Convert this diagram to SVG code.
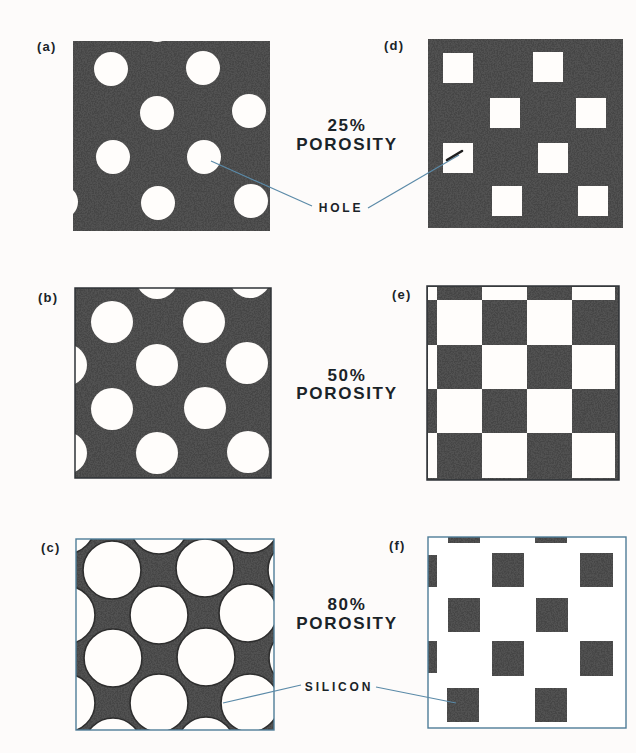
<svg xmlns="http://www.w3.org/2000/svg" width="636" height="753" viewBox="0 0 636 753">
<style>
.bg{fill:#fdfbfa}
.dark{fill:#525252}
.hole{fill:#fffdfb}
.holeC{fill:#fffdfb;stroke:#2e2e2e;stroke-width:1.6}
.frame{fill:none;stroke:#2f3337;stroke-width:1.5}
.frameB{fill:none;stroke:#4f7d98;stroke-width:1.4}
.noise{filter:url(#grain)}
.lbl{font-family:"Liberation Sans",Arial,sans-serif;font-weight:bold;font-size:13px;letter-spacing:1.2px;fill:#1a2328}
.big{font-family:"Liberation Sans",Arial,sans-serif;font-weight:bold;font-size:17px;letter-spacing:1.7px;fill:#1a2328;text-anchor:middle}
.small{font-family:"Liberation Sans",Arial,sans-serif;font-weight:bold;font-size:12px;letter-spacing:2.8px;fill:#1a2328;text-anchor:middle}
.conn{stroke:#5b8aa8;stroke-width:1.2;fill:none}
</style>
<defs>
<filter id="grain" x="0" y="0" width="100%" height="100%">
<feTurbulence type="fractalNoise" baseFrequency="0.7" numOctaves="2" seed="4" result="n"/>
<feColorMatrix in="n" type="matrix" values="0 0 0 0 0.06  0 0 0 0 0.06  0 0 0 0 0.06  4 0 0 0 -1.55" result="a"/>
<feComposite in="a" in2="SourceGraphic" operator="in"/>
</filter>
<clipPath id="cpA"><rect x="73" y="41" width="197" height="190"/></clipPath>
<clipPath id="cpB"><rect x="75" y="288" width="196" height="190"/></clipPath>
<clipPath id="cpC"><rect x="76" y="539" width="198" height="191"/></clipPath>
<clipPath id="cpF"><rect x="428" y="537" width="198" height="191"/></clipPath>
</defs>
<rect class="bg" x="0" y="0" width="636" height="753"/>

<g id="panel-a">
<rect class="dark" x="73" y="41" width="197" height="190"/>
<rect class="noise" x="73" y="41" width="197" height="190"/>
<g clip-path="url(#cpA)" class="hole">
<circle cx="111" cy="69" r="17"/><circle cx="203" cy="68" r="17"/>
<circle cx="157" cy="113" r="17"/><circle cx="249" cy="111" r="17"/>
<circle cx="113" cy="157" r="17"/><circle cx="204" cy="157" r="17"/>
<circle cx="158" cy="203" r="17"/><circle cx="251" cy="201" r="17"/>
<circle cx="61" cy="202" r="17"/><circle cx="157" cy="25" r="17"/>
</g>
<text class="lbl" x="37" y="51">(a)</text>
</g>

<g id="panel-b">
<rect class="dark" x="75" y="288" width="196" height="190"/>
<rect class="noise" x="75" y="288" width="196" height="190"/>
<g clip-path="url(#cpB)" class="hole">
<circle cx="112" cy="322" r="21"/><circle cx="204" cy="322" r="21"/>
<circle cx="157" cy="365" r="21"/><circle cx="247" cy="363" r="21"/>
<circle cx="112" cy="409" r="21"/><circle cx="205" cy="408" r="21"/>
<circle cx="157" cy="453" r="21"/><circle cx="248" cy="452" r="21"/>
<circle cx="157" cy="278" r="21"/><circle cx="250" cy="277" r="21"/>
<circle cx="66" cy="365" r="21"/><circle cx="66" cy="453" r="21"/>
</g>
<rect class="frame" x="75" y="288" width="196" height="190"/>
<text class="lbl" x="38" y="302">(b)</text>
</g>

<g id="panel-c">
<rect class="dark" x="76" y="539" width="198" height="191"/>
<rect class="noise" x="76" y="539" width="198" height="191"/>
<g clip-path="url(#cpC)" class="holeC">
<circle cx="112" cy="570" r="29"/><circle cx="205" cy="568" r="29"/>
<circle cx="159" cy="615" r="29"/><circle cx="248" cy="613" r="29"/>
<circle cx="113" cy="658" r="29"/><circle cx="206" cy="657" r="29"/>
<circle cx="159" cy="703" r="29"/><circle cx="250" cy="703" r="29"/>
<circle cx="159" cy="525" r="29"/><circle cx="250" cy="524" r="29"/>
<circle cx="66" cy="525" r="29"/>
<circle cx="66" cy="615" r="29"/><circle cx="66" cy="703" r="29"/>
<circle cx="297" cy="570" r="29"/><circle cx="298" cy="658" r="29"/>
<circle cx="113" cy="747" r="29"/><circle cx="206" cy="746" r="29"/>
</g>
<rect class="frameB" x="76" y="539" width="198" height="191"/>
<text class="lbl" x="41" y="552">(c)</text>
</g>

<g id="panel-d">
<rect class="dark" x="428" y="39" width="195" height="189"/>
<rect class="noise" x="428" y="39" width="195" height="189"/>
<g class="hole">
<rect x="443" y="53" width="30" height="30"/><rect x="533" y="52" width="30" height="30"/>
<rect x="490" y="98" width="30" height="30"/><rect x="576" y="98" width="30" height="30"/>
<rect x="443" y="143" width="30" height="30"/><rect x="538" y="143" width="30" height="30"/>
<rect x="492" y="186" width="30" height="30"/><rect x="578" y="186" width="30" height="30"/>
</g>
<text class="lbl" x="384" y="50">(d)</text>
</g>

<g id="panel-e">
<rect class="dark" x="427" y="286" width="192" height="194"/>
<rect class="noise" x="427" y="286" width="192" height="194"/>
<g class="hole">
<rect x="428" y="287" width="9" height="13"/><rect x="482" y="287" width="45" height="13"/><rect x="572" y="287" width="43" height="13"/>
<rect x="437" y="300" width="45" height="45"/><rect x="527" y="300" width="45" height="45"/>
<rect x="428" y="345" width="9" height="44"/><rect x="482" y="345" width="45" height="44"/><rect x="572" y="345" width="43" height="44"/>
<rect x="437" y="389" width="45" height="44"/><rect x="527" y="389" width="45" height="44"/>
<rect x="428" y="433" width="9" height="45"/><rect x="482" y="433" width="45" height="45"/><rect x="572" y="433" width="43" height="45"/>
</g>
<rect class="frame" x="427" y="286" width="192" height="194"/>
<text class="lbl" x="392" y="299">(e)</text>
</g>

<g id="panel-f">
<rect x="428" y="537" width="198" height="191" fill="#ffffff"/>
<g clip-path="url(#cpF)">
<g id="f-squares" class="dark">
<rect x="492" y="553" width="32" height="34"/><rect x="580" y="553" width="33" height="34"/>
<rect x="448" y="598" width="32" height="34"/><rect x="536" y="598" width="32" height="34"/>
<rect x="492" y="641" width="32" height="35"/><rect x="580" y="641" width="33" height="35"/>
<rect x="447" y="688" width="32" height="34"/><rect x="535" y="688" width="32" height="34"/>
<rect x="448" y="537" width="32" height="6"/><rect x="535" y="537" width="32" height="6"/>
<rect x="428" y="555" width="9" height="32"/><rect x="428" y="641" width="9" height="32"/>
</g>
<use href="#f-squares" class="noise"/>
</g>
<rect class="frameB" x="428" y="537" width="198" height="191"/>
<text class="lbl" x="389" y="550">(f)</text>
</g>

<g id="captions">
<text class="big" x="347" y="131">25%</text>
<text class="big" x="347" y="150">POROSITY</text>
<text class="big" x="347" y="381">50%</text>
<text class="big" x="347" y="399">POROSITY</text>
<text class="big" x="347" y="610">80%</text>
<text class="big" x="347" y="629">POROSITY</text>
</g>

<g id="label-hole"><text class="small" x="341" y="212">HOLE</text></g>
<g id="label-silicon"><text class="small" x="339" y="691">SILICON</text></g>

<g id="connectors">
<line class="conn" x1="312" y1="206" x2="211" y2="161"/>
<line class="conn" x1="368" y1="208" x2="459" y2="155"/>
<line x1="447" y1="160" x2="462" y2="151" stroke="#1e1e1e" stroke-width="2.6" stroke-linecap="round"/>
<line class="conn" x1="301" y1="685" x2="223" y2="703"/>
<line class="conn" x1="376" y1="687" x2="456" y2="703"/>
</g>
</svg>
